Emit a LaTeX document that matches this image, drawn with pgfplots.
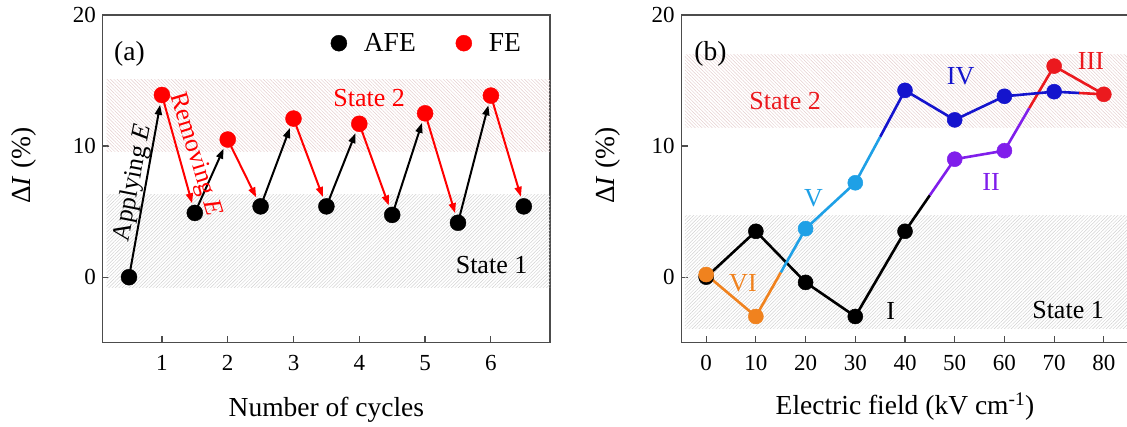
\documentclass[border=0pt]{standalone}
\usepackage{fontspec}
\setmainfont{Liberation Serif}
\usepackage{pgfplots}
\pgfplotsset{compat=1.18}
\usetikzlibrary{patterns.meta,arrows.meta}

\definecolor{hatchone}{RGB}{208,208,208}
\definecolor{hatchtwo}{RGB}{228,205,205}
\definecolor{colI}{RGB}{0,0,0}
\definecolor{colII}{RGB}{128,30,235}
\definecolor{colIII}{RGB}{235,25,30}
\definecolor{colIV}{RGB}{20,20,205}
\definecolor{colV}{RGB}{30,160,230}
\definecolor{colVI}{RGB}{240,130,30}

\newcommand{\fs}[1]{\fontsize{#1bp}{#1bp}\selectfont}

\pgfplotsset{
  myaxis/.style={
    scale only axis, width=447.4bp, height=327.7bp,
    ymin=-5, ymax=20, ytick={0,10,20},
    axis line style={draw=black!70, line width=1.4bp},
    tick style={draw=black!70, line width=1.2bp},
    major tick length=6.7bp,
    tick align=inside,
    xtick pos=bottom, ytick pos=left,
    tick label style={font=\fs{23}},
    /pgf/number format/assume math mode=true,
    xticklabel style={inner sep=0pt, anchor=north, yshift=-12.3bp},
    yticklabel style={inner sep=0pt, anchor=east, xshift=-6.6bp},
    label style={font=\fs{27.5}},
    clip=false,
  },
  band1/.style={draw=none, forget plot, pattern={Lines[angle=45,distance=2.4bp,line width=0.45bp]}, pattern color=hatchone},
  band2/.style={draw=none, forget plot, pattern={Lines[angle=-45,distance=2.4bp,line width=0.45bp]}, pattern color=hatchtwo},
}

\begin{document}
\begin{tikzpicture}
\useasboundingbox (0,0) rectangle (1127bp,427bp);

% ---------------- panel (a) ----------------
\begin{axis}[myaxis,
  at={(102.7bp,84.3bp)}, anchor=south west,
  xmin=0.1, xmax=6.9, xtick={1,2,3,4,5,6},
  xlabel={Number of cycles},
  xlabel style={at={(axis description cs:0.5,-0.2258)}, anchor=base},
  ylabel={Δ\textit{I} (\%)},
  ylabel style={at={(axis description cs:-0.1757,0.54)}, anchor=center},
  legend columns=2,
  legend cell align=left,
  legend style={draw=none, fill=none, at={(axis cs:3.568,17.85)}, anchor=west,
    font=\fs{27.5}, inner sep=0pt, outer sep=0pt,
    nodes={inner sep=0pt},
    /tikz/every odd column/.append style={column sep=17bp},
    /tikz/every even column/.append style={column sep=40bp}},
  legend image code/.code={\draw[#1] plot coordinates {(0bp,0bp)};},
]
\addplot[band1] coordinates {(0.16,-0.8) (6.9,-0.8) (6.9,6.3) (0.16,6.3)} -- cycle;
\addplot[band2] coordinates {(0.16,9.6) (6.9,9.6) (6.9,15.1) (0.16,15.1)} -- cycle;

% applying E (AFE -> FE)
\addplot[black, line width=2bp, forget plot, -{Triangle[length=10bp,width=7bp]},
  quiver={u=\thisrow{u}, v=\thisrow{v}, every arrow/.append style={shorten >=10bp}}]
  table {
x y u v
0.5 0 0.5 13.9
1.5 4.9 0.5 5.6
2.5 5.4 0.5 6.7
3.5 5.4 0.5 6.3
4.5 4.75 0.5 7.75
5.5 4.15 0.5 9.7
};
% removing E (FE -> AFE)
\addplot[red, line width=2bp, forget plot, -{Triangle[length=10bp,width=7bp]},
  quiver={u=\thisrow{u}, v=\thisrow{v}, every arrow/.append style={shorten >=10bp}}]
  table {
x y u v
1 13.9 0.5 -9.0
2 10.5 0.5 -5.1
3 12.1 0.5 -6.7
4 11.7 0.5 -6.95
5 12.5 0.5 -8.35
6 13.85 0.5 -8.45
};

\addplot[only marks, mark=*, mark size=8bp, black] table {
x y
0.5 0
1.5 4.9
2.5 5.4
3.5 5.4
4.5 4.75
5.5 4.15
6.5 5.4
};
\addlegendentry{AFE}
\addplot[only marks, mark=*, mark size=8bp, red] table {
x y
1 13.9
2 10.5
3 12.1
4 11.7
5 12.5
6 13.85
};
\addlegendentry{FE}

\node[inner sep=0pt, font=\fs{27.5}] at (axis cs:0.506,17.0) {(a)};
\node[inner sep=0pt, font=\fs{26}, red] at (axis cs:4.15,13.65) {State 2};
\node[inner sep=0pt, font=\fs{26}] at (axis cs:6.01,0.93) {State 1};
\node[inner sep=0pt, font=\fs{25.5}, rotate=79] at (axis cs:0.566,7.2) {Applying \textit{E}};
\node[inner sep=0pt, font=\fs{25.5}, red, rotate=-73] at (axis cs:1.5,9.34) {Removing \textit{E}};
\end{axis}

% ---------------- panel (b) ----------------
\begin{axis}[myaxis,
  at={(681.3bp,84.3bp)}, anchor=south west,
  xmin=-5, xmax=85, xtick={0,10,...,80},
  xlabel={Electric field (kV cm\textsuperscript{-1})},
  xlabel style={at={(axis description cs:0.5,-0.2197)}, anchor=base},
  ylabel={Δ\textit{I} (\%)},
  ylabel style={at={(axis description cs:-0.164,0.54)}, anchor=center},
]
\addplot[band1] coordinates {(-4.3,-3.9) (85,-3.9) (85,4.7) (-4.3,4.7)} -- cycle;
\addplot[band2] coordinates {(-4.3,11.4) (85,11.4) (85,17.0) (-4.3,17.0)} -- cycle;

\addplot[colI, line width=2.6bp, line join=round, mark=*, mark size=7.5bp, mark indices={1,2,3,4,5}, mark options={line width=0.5bp}, forget plot]
  coordinates {(0,0) (10,3.5) (20,-0.4) (30,-3.0) (40,3.5) (45,6.25)};
\addplot[colII, line width=2.6bp, line join=round, mark=*, mark size=7.5bp, mark indices={2,3}, mark options={line width=0.5bp}, forget plot]
  coordinates {(45,6.25) (50,9.0) (60,9.65) (65,12.9)};
\addplot[colIII, line width=2.6bp, line join=round, mark=*, mark size=7.5bp, mark indices={2,3}, mark options={line width=0.5bp}, forget plot]
  coordinates {(65,12.9) (70,16.1) (80,13.95) (75,14.05)};
\addplot[colIV, line width=2.6bp, line join=round, mark=*, mark size=7.5bp, mark indices={2,3,4,5}, mark options={line width=0.5bp}, forget plot]
  coordinates {(75,14.05) (70,14.15) (60,13.8) (50,12.0) (40,14.25) (35,10.7)};
\addplot[colV, line width=2.6bp, line join=round, mark=*, mark size=7.5bp, mark indices={2,3}, mark options={line width=0.5bp}, forget plot]
  coordinates {(35,10.7) (30,7.2) (20,3.7) (15,0.35)};
\addplot[colVI, line width=2.6bp, line join=round, mark=*, mark size=7.5bp, mark indices={2,3}, mark options={line width=0.5bp}, forget plot]
  coordinates {(15,0.35) (10,-3.0) (0,0.2)};

\node[inner sep=0pt, font=\fs{27.5}] at (axis cs:0.85,17.0) {(b)};
\node[inner sep=0pt, font=\fs{26}, colIII] at (axis cs:15.9,13.4) {State 2};
\node[inner sep=0pt, font=\fs{26}] at (axis cs:72.8,-2.5) {State 1};
\node[inner sep=0pt, font=\fs{26}, colIV] at (axis cs:51.2,15.3) {IV};
\node[inner sep=0pt, font=\fs{26}, colIII] at (axis cs:77.4,16.5) {III};
\node[inner sep=0pt, font=\fs{26}, colII] at (axis cs:57.3,7.24) {II};
\node[inner sep=0pt, font=\fs{26}, colV] at (axis cs:21.6,6.0) {V};
\node[inner sep=0pt, font=\fs{26}, colVI] at (axis cs:7.4,-0.45) {VI};
\node[inner sep=0pt, font=\fs{26}] at (axis cs:37.1,-2.6) {I};
\end{axis}
\end{tikzpicture}
\end{document}
